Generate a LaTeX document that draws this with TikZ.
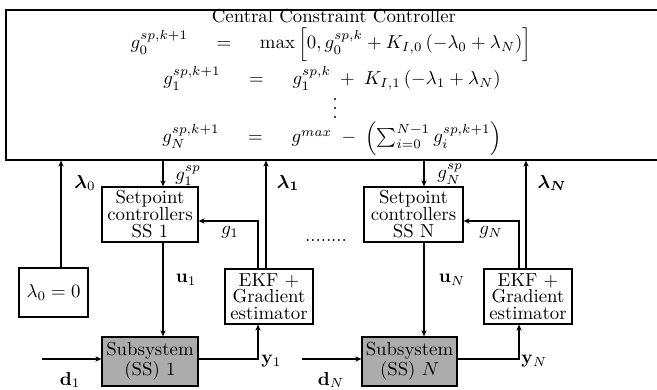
\documentclass[tikz,border=0pt]{standalone}
\usepackage{amsmath}
\usetikzlibrary{arrows.meta}
\tikzset{
  bx/.style n args={3}{draw, line width=0.65pt, minimum width={#1*0.532pt}, minimum height={#2*0.532pt},
     inner sep=0pt, align=center, font=\fontsize{10}{#3}\selectfont},
  arr/.style={line width=0.65pt, -{Stealth[length=3.2pt,width=2.8pt]}},
  dotc/.style={fill=black, circle, inner sep=0pt, minimum size=1.3pt},
  lbl/.style={inner sep=0pt}
}
\begin{document}
\begin{tikzpicture}[x=0.532pt, y=-0.532pt]
\useasboundingbox (0,0) rectangle (657,390);
\clip (0,0) rectangle (657,390);
% central box
\node[bx={660}{150}{12}] (cc) at (336,85) {};
\node[lbl, anchor=base] (title) at (334,23) {Central Constraint Controller};
\node[lbl, anchor=base] (eq1) at (331,49) {$g_0^{sp,k+1}\hspace{12.5pt}=\hspace{12.5pt}\max\left[0, g_0^{sp,k} + K_{I,0}\,(-\lambda_0+\lambda_N)\right]$};
\node[lbl, anchor=base] (eq2) at (332,85) {$g_1^{sp,k+1}\hspace{12.5pt}=\hspace{12.5pt}g_1^{sp,k} \;+\; K_{I,1}\,(-\lambda_1+\lambda_N)$};
\node[dotc] (vd1) at (335,99) {};
\node[dotc] (vd2) at (335,108) {};
\node[dotc] (vd3) at (335,117) {};
\node[lbl, anchor=base] (eq4) at (332,143) {$g_N^{sp,k+1}\hspace{12.5pt}=\hspace{12.5pt}g^{max} \;-\; \left(\sum_{i=0}^{N-1} g_i^{sp,k+1}\right)$};
% blocks subsystem 1
\node[bx={69}{49}{12}] (lam0) at (53.5,292.5) {$\lambda_0=0$};
\node[bx={96}{55}{9}] (spc1) at (150,214.5) {Setpoint\\controllers\\SS 1};
\node[bx={88}{55}{8.7}] (ekf1) at (269,296.5) {EKF +\\Gradient\\estimator};
\node[bx={96}{49}{10.5}, fill=gray!65] (sub1) at (150,361.5) {Subsystem\\(SS) 1};
% blocks subsystem N
\node[bx={99}{55}{9}] (spcN) at (413.5,214.5) {Setpoint\\controllers\\SS N};
\node[bx={88}{55}{8.7}] (ekfN) at (528,296.5) {EKF +\\Gradient\\estimator};
\node[bx={95}{49}{10.5}, fill=gray!65] (subN) at (409.5,361.5) {Subsystem\\(SS) $N$};
\node[lbl] (dots) at (326,241) {........};
% helper coordinates
\coordinate (x0) at (61,0);
\coordinate (x1) at (163,0);
\coordinate (xg1) at (258,0);
\coordinate (xl1) at (266,0);
\coordinate (xN) at (424,0);
\coordinate (xgN) at (519,0);
\coordinate (xlN) at (526,0);
\coordinate (yg) at (0,221);
\coordinate (yd) at (0,359);
\coordinate (d1s) at (42,359);
\coordinate (dNs) at (302,359);
% connectors 1
\draw[arr] (lam0.north -| x0) -- (cc.south -| x0);
\draw[arr] (cc.south -| x1) -- (spc1.north -| x1);
\draw[arr] (spc1.south -| x1) -- (sub1.north -| x1);
\draw[arr] (d1s) -- (sub1.west |- d1s);
\draw[arr] (sub1.east |- yd) -| (ekf1.south -| xg1);
\draw[arr] (ekf1.north -| xg1) |- (spc1.east |- yg);
\draw[arr] (ekf1.north -| xl1) -- (cc.south -| xl1);
% connectors N
\draw[arr] (cc.south -| xN) -- (spcN.north -| xN);
\draw[arr] (spcN.south -| xN) -- (subN.north -| xN);
\draw[arr] (dNs) -- (subN.west |- dNs);
\draw[arr] (subN.east |- yd) -| (ekfN.south -| xgN);
\draw[arr] (ekfN.north -| xgN) |- (spcN.east |- yg);
\draw[arr] (ekfN.north -| xlN) -- (cc.south -| xlN);
% labels
\node[lbl] (l0) at (85,183) {$\boldsymbol{\lambda}_0$};
\node[lbl, anchor=west] (g1sp) at (175,176) {$g_1^{sp}$};
\node[lbl] (l1) at (288,183) {$\boldsymbol{\lambda_1}$};
\node[lbl] (g1) at (230,232) {$g_1$};
\node[lbl] (u1) at (186,280) {$\mathbf{u}_1$};
\node[lbl] (d1) at (70,380) {$\mathbf{d}_1$};
\node[lbl, anchor=west] (y1) at (261,361) {$\mathbf{y}_1$};
\node[lbl, anchor=west] (gNsp) at (437,174) {$g_N^{sp}$};
\node[lbl] (gN) at (491,232) {$g_N$};
\node[lbl] (lN) at (552,183) {$\boldsymbol{\lambda_N}$};
\node[lbl] (uN) at (452,280) {$\mathbf{u}_N$};
\node[lbl] (dN) at (331,380) {$\mathbf{d}_N$};
\node[lbl, anchor=west] (yN) at (521,361) {$\mathbf{y}_N$};
\end{tikzpicture}
\end{document}
